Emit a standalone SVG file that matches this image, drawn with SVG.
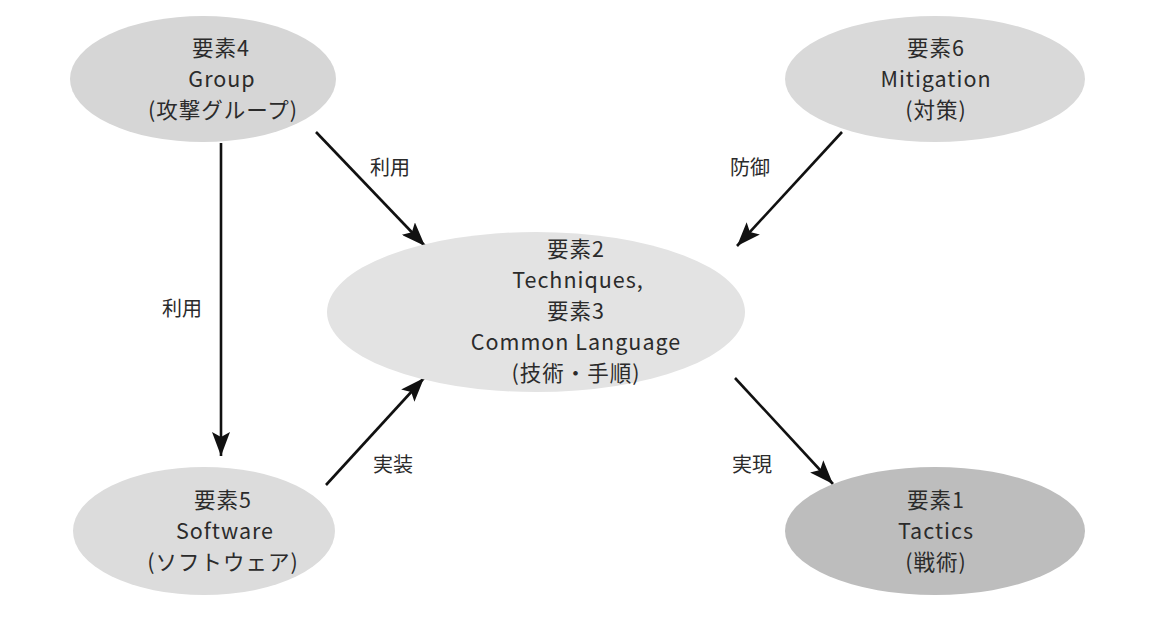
<svg xmlns="http://www.w3.org/2000/svg" width="1175" height="636" viewBox="0 0 1175 636">
<style>
text{font-family:"Noto Sans CJK JP","Noto Sans",sans-serif;fill:#2b2b2b;text-anchor:middle}
.n text{font-size:21.5px;letter-spacing:1px}
.l{font-size:20px}
.c line{stroke:#111;stroke-width:2.6}
</style>
<defs>
<marker id="ah" markerWidth="26" markerHeight="18" refX="24" refY="9" orient="auto" markerUnits="userSpaceOnUse">
<path d="M0,0 L24,9 L0,18 L5,9 Z" fill="#111"/>
</marker>
</defs>
<rect width="1175" height="636" fill="#fff"/>
<g class="c" id="connectors">
<line x1="221" y1="143" x2="221" y2="456" marker-end="url(#ah)"/>
<line x1="316" y1="132" x2="425" y2="246" marker-end="url(#ah)"/>
<line x1="842" y1="132" x2="737" y2="246" marker-end="url(#ah)"/>
<line x1="326" y1="485" x2="424" y2="378" marker-end="url(#ah)"/>
<line x1="735" y1="378" x2="833" y2="484" marker-end="url(#ah)"/>
</g>
<g id="labels">
<text class="l" x="390" y="175">利用</text>
<text class="l" x="750" y="175">防御</text>
<text class="l" x="182" y="316">利用</text>
<text class="l" x="393" y="472">実装</text>
<text class="l" x="752" y="472">実現</text>
</g>
<g id="n4" class="n">
<ellipse cx="203" cy="79" rx="133" ry="63" fill="#d6d6d6"/>
<text x="221" y="56">要素4</text>
<text x="222" y="87">Group</text>
<text x="223" y="118">(攻撃グループ)</text>
</g>
<g id="n6" class="n">
<ellipse cx="935" cy="79" rx="150" ry="63" fill="#d9d9d9"/>
<text x="936" y="56">要素6</text>
<text x="936" y="87">Mitigation</text>
<text x="936" y="118">(対策)</text>
</g>
<g id="n2" class="n">
<ellipse cx="536" cy="312" rx="209" ry="80" fill="#e3e3e3"/>
<text x="576" y="257">要素2</text>
<text x="578" y="288">Techniques,</text>
<text x="576" y="319">要素3</text>
<text x="576" y="350">Common Language</text>
<text x="576" y="381">(技術・手順)</text>
</g>
<g id="n5" class="n">
<ellipse cx="204" cy="531" rx="131" ry="64" fill="#dcdcdc"/>
<text x="223" y="508">要素5</text>
<text x="225" y="539">Software</text>
<text x="223" y="570">(ソフトウェア)</text>
</g>
<g id="n1" class="n">
<ellipse cx="935" cy="531" rx="150" ry="64" fill="#bdbdbd"/>
<text x="936" y="508">要素1</text>
<text x="936" y="539">Tactics</text>
<text x="936" y="570">(戦術)</text>
</g>
</svg>
